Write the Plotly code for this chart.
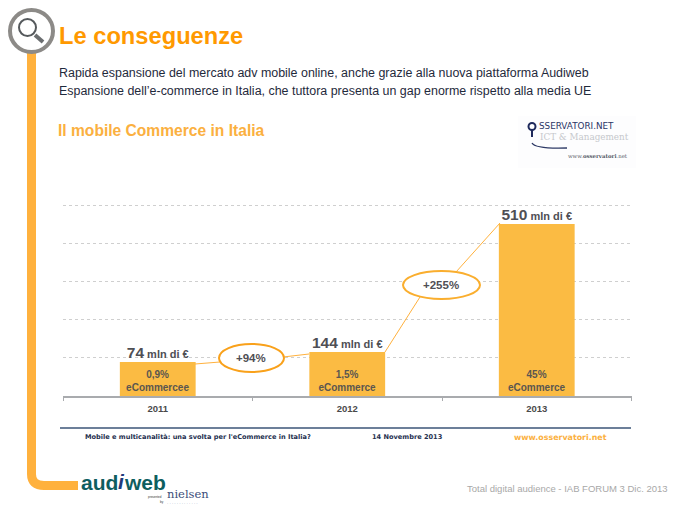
import plotly.graph_objects as go

W, H = 699, 515
FONT = "Liberation Sans"
ORANGE = "#FFB13D"
BAR = "#FBBB43"
TEXT = "#4F4F55"

years = ["2011", "2012", "2013"]
# Drawn bar heights as read against the dotted grid (the source is not to scale with its labels)
bar_heights = [89, 115, 450]
value_numbers = ["74", "144", "510"]
value_unit = "mln di €"
share_labels = ["0,9%<br>eCommercee", "1,5%<br>eCommerce", "45%<br>eCommerce"]
growth_labels = ["+94%", "+255%"]
grid_ticks = [0, 100, 200, 300, 400, 500]


def px(x):
    return x / W


def py(y):
    return 1 - y / H


def text(x, y, s, size, color=TEXT, anchor="left", family=FONT):
    return dict(x=px(x), y=py(y), xref="paper", yref="paper", text=s, showarrow=False,
                xanchor=anchor, yanchor="middle", align=anchor, borderpad=0, borderwidth=0,
                font=dict(family=family, size=size, color=color))


def line(x0, y0, x1, y1, color=ORANGE, width=1.0):
    return dict(type="line", xref="paper", yref="paper", x0=px(x0), y0=py(y0), x1=px(x1), y1=py(y1),
                line=dict(color=color, width=width), layer="above")


def ellipse(x0, y0, x1, y1, edge, width, fill="white"):
    return dict(type="circle", xref="paper", yref="paper", x0=px(x0), y0=py(y0), x1=px(x1), y1=py(y1),
                line=dict(color=edge, width=width), fillcolor=fill, layer="above")


fig = go.Figure()
fig.add_bar(
    x=years, y=bar_heights, width=0.4, marker=dict(color=BAR, line=dict(width=0)),
    text=["<b>%s</b>" % s for s in share_labels], textposition="inside", insidetextanchor="start",
    constraintext="none", textangle=0,
    textfont=dict(family=FONT, size=10, color="#5A5650"), hoverinfo="skip",
)
fig.add_scatter(
    x=years, y=bar_heights, mode="markers+text", textposition="top center", hoverinfo="skip", cliponaxis=False,
    marker=dict(size=1, opacity=0),
    text=['<b><span style="font-size:15.5px">%s</span> %s</b>' % (n, value_unit) for n in value_numbers],
    textfont=dict(family=FONT, size=11, color=TEXT),
)

shapes = [
    # faint logo panel
    dict(type="rect", xref="paper", yref="paper", x0=px(518), y0=py(116), x1=px(636), y1=py(168),
         fillcolor="#FDFDFE", line=dict(width=0), layer="below"),
    # timeline rail with rounded foot
    dict(type="path", xref="paper", yref="paper", layer="below",
         path="M %f %f L %f %f Q %f %f %f %f L %f %f" % (
             px(31.5), py(50), px(31.5), py(474), px(31.5), py(485.5), px(44), py(485.5),
             px(78), py(485.5)),
         line=dict(color=ORANGE, width=9)),
    # magnifier badge
    ellipse(10, 10, 53, 52, "#8C8A87", 4),
    ellipse(19, 19, 36, 36, "#55595C", 2, "rgba(255,255,255,0)"),
    line(35, 35, 43, 42, "#6B6E70", 4),
    # connectors
    line(195, 364, 220, 362), line(283, 357, 309, 354),
    line(385, 352, 420, 297), line(456, 272, 500, 223),
    # growth bubbles
    ellipse(219, 344, 284, 372, "#F9A11B", 2),
    ellipse(403, 271, 480, 299, "#FAAE2E", 2),
    # footer rule of the embedded slide
    line(60, 428, 631, 428, "#6C7F99", 2),
    # logo pin and swoosh
    dict(type="path", xref="paper", yref="paper", layer="above",
         path="M %f %f Q %f %f %f %f" % (px(532), py(143), px(535), py(149), px(567), py(148)),
         line=dict(color="#2E3A66", width=1.3)),
    ellipse(528.5, 123, 535.5, 130, "#1F2A5C", 2),
    line(532, 130, 532, 137, "#1F2A5C", 2),
]

ann = [
    text(59, 36, "<b>Le conseguenze</b>", 23.7, "#FF9900"),
    text(59, 73, "Rapida espansione del mercato adv mobile online, anche grazie alla nuova piattaforma Audiweb", 12.45, "#1F2A3C"),
    text(59, 91, "Espansione dell’e-commerce in Italia, che tuttora presenta un gap enorme rispetto alla media UE", 12.45, "#1F2A3C"),
    text(58, 130, "<b>Il mobile Commerce in Italia</b>", 15.6, "#FBB040"),
    text(251, 358, "<b>%s</b>" % growth_labels[0], 11.5, anchor="center"),
    text(441, 285, "<b>%s</b>" % growth_labels[1], 11.5, anchor="center"),
    text(85, 437, "<b>Mobile e multicanalità: una svolta per l'eCommerce in Italia?</b>", 6.6, "#25304F", family="DejaVu Sans"),
    text(372, 437, "<b>14 Novembre 2013</b>", 6.6, "#25304F", family="DejaVu Sans"),
    text(514, 437, "<b>www.osservatori.net</b>", 7.9, "#FBB040", family="DejaVu Sans"),
    text(467, 488, "Total digital audience - IAB FORUM 3 Dic. 2013", 9.5, "#A8A8A8"),
    # logos
    text(539, 126, "SSERVATORI.NET", 8.8, "#2B3566", family="DejaVu Sans"),
    text(540, 137, "ICT &amp; Management", 8.8, "#C6C8CC", family="DejaVu Serif"),
    text(568, 155.5, "www.<b>osservatori</b>.net", 5.4, "#555A66", family="DejaVu Serif"),
    text(81, 482, "<b>aud</b>", 21, "#0E5E5F"),
    text(118, 481, "<b><i>i</i></b>", 21, "#1F3A7A"),
    text(124, 482, "<b>web</b>", 21, "#0E5E5F"),
    text(167, 494, "nielsen", 11.5, "#3A4C78", family="DejaVu Serif"),
    text(148, 497, "presented", 3, "#333333"),
    text(160, 502, "by", 3, "#333333"),
    text(167, 503, "· · · · · · · · · · · · ·", 4, "#3A4C78"),
]

fig.update_layout(
    width=W, height=H, margin=dict(l=0, r=0, t=0, b=0, autoexpand=False), autosize=False,
    paper_bgcolor="white", plot_bgcolor="white", showlegend=False,
    shapes=shapes, annotations=ann,
    xaxis=dict(domain=[px(63), px(631.5)], type="category", categoryorder="array", categoryarray=years,
               range=[-0.5, 2.5], tickson="boundaries", ticks="outside", ticklen=3, tickangle=0,
               ticklabelstandoff=3,
               tickcolor="#A9ABAE", showline=True, linecolor="#A9ABAE", linewidth=1.5, showgrid=False,
               zeroline=False, fixedrange=True,
               tickfont=dict(family=FONT, size=9.5, color="#4A4A4A"), tickprefix="<b>", ticksuffix="</b>"),
    yaxis=dict(domain=[py(396), py(201.2)], range=[0, 510], tickvals=grid_ticks, showticklabels=False,
               showgrid=True, gridcolor="#CFCFCF", griddash="dot", gridwidth=1, zeroline=False,
               showline=False, ticks="", fixedrange=True),
)

fig.write_html("out.html", config={"displayModeBar": False},
               post_script="document.body.style.margin='0';")
